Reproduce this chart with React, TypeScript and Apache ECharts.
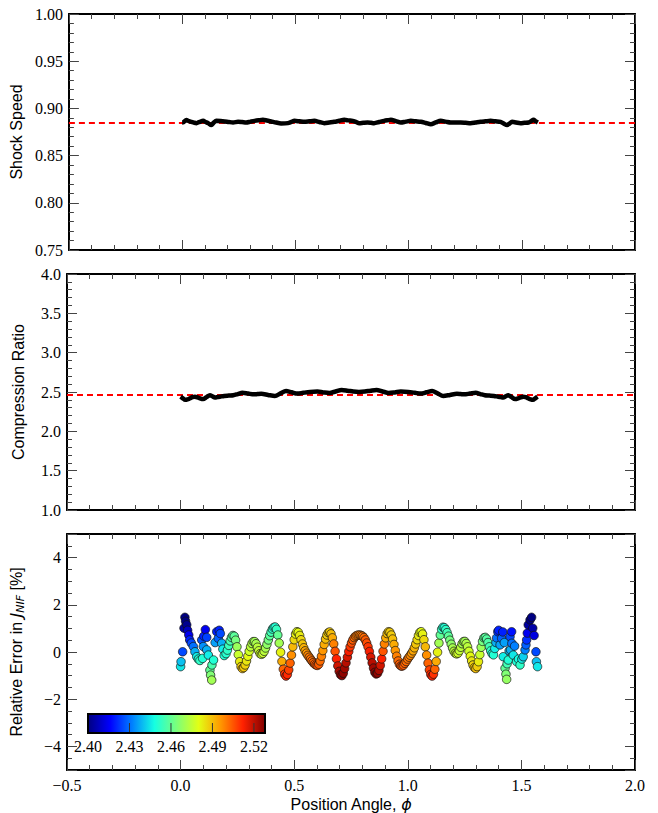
import React, { useEffect, useRef } from "react";
import * as echarts from "echarts";

// ---------- data ----------
// [position angle phi, shock speed]
const shockSpeedCurve: [number, number][] = [
  [0.000, 0.8851], [0.005, 0.8853], [0.019, 0.8876], [0.030, 0.8866], [0.041, 0.8858],
  [0.052, 0.8850], [0.063, 0.8844], [0.078, 0.8858], [0.093, 0.8868], [0.104, 0.8856],
  [0.115, 0.8844], [0.129, 0.8823], [0.140, 0.8850], [0.151, 0.8868], [0.170, 0.8866],
  [0.188, 0.8862], [0.206, 0.8856], [0.225, 0.8851], [0.247, 0.8858], [0.265, 0.8855],
  [0.283, 0.8851], [0.302, 0.8860], [0.320, 0.8868], [0.338, 0.8874], [0.357, 0.8879],
  [0.375, 0.8871], [0.393, 0.8862], [0.415, 0.8850], [0.437, 0.8841], [0.467, 0.8844],
  [0.482, 0.8856], [0.496, 0.8868], [0.518, 0.8863], [0.540, 0.8858], [0.562, 0.8863],
  [0.584, 0.8868], [0.606, 0.8856], [0.628, 0.8844], [0.650, 0.8851], [0.672, 0.8858],
  [0.694, 0.8869], [0.716, 0.8879], [0.735, 0.8873], [0.753, 0.8868], [0.768, 0.8856],
  [0.782, 0.8844], [0.800, 0.8848], [0.819, 0.8851], [0.834, 0.8848], [0.848, 0.8844],
  [0.870, 0.8856], [0.892, 0.8868], [0.907, 0.8874], [0.922, 0.8879], [0.944, 0.8865],
  [0.966, 0.8851], [0.988, 0.8860], [1.010, 0.8868], [1.032, 0.8863], [1.054, 0.8858],
  [1.076, 0.8846], [1.098, 0.8833], [1.120, 0.8851], [1.142, 0.8868], [1.164, 0.8860],
  [1.186, 0.8851], [1.208, 0.8851], [1.230, 0.8851], [1.252, 0.8848], [1.274, 0.8844],
  [1.296, 0.8851], [1.318, 0.8858], [1.340, 0.8863], [1.362, 0.8868], [1.384, 0.8863],
  [1.406, 0.8858], [1.420, 0.8840], [1.435, 0.8823], [1.446, 0.8840], [1.457, 0.8858],
  [1.475, 0.8851], [1.494, 0.8844], [1.512, 0.8848], [1.530, 0.8851], [1.541, 0.8865],
  [1.552, 0.8879], [1.560, 0.8866], [1.571, 0.8851],
];

// [position angle phi, compression ratio]
const compressionCurve: [number, number][] = [
  [0.000, 2.44], [0.010, 2.42], [0.020, 2.40], [0.030, 2.405], [0.041, 2.42],
  [0.052, 2.435], [0.063, 2.44], [0.080, 2.425], [0.099, 2.41], [0.114, 2.435],
  [0.129, 2.46], [0.140, 2.445], [0.151, 2.43], [0.162, 2.435], [0.173, 2.44],
  [0.192, 2.45], [0.212, 2.454], [0.232, 2.458], [0.252, 2.474], [0.272, 2.49],
  [0.297, 2.48], [0.323, 2.47], [0.339, 2.474], [0.355, 2.477], [0.385, 2.463],
  [0.415, 2.45], [0.440, 2.482], [0.464, 2.512], [0.489, 2.496], [0.514, 2.48],
  [0.540, 2.49], [0.570, 2.50], [0.602, 2.505], [0.628, 2.495], [0.655, 2.488],
  [0.682, 2.507], [0.709, 2.527], [0.735, 2.517], [0.760, 2.505], [0.785, 2.50],
  [0.811, 2.505], [0.836, 2.517], [0.862, 2.527], [0.889, 2.507], [0.916, 2.488],
  [0.943, 2.495], [0.969, 2.505], [1.001, 2.50], [1.031, 2.49], [1.057, 2.48],
  [1.082, 2.496], [1.107, 2.512], [1.131, 2.482], [1.156, 2.45], [1.186, 2.463],
  [1.216, 2.477], [1.232, 2.474], [1.248, 2.47], [1.274, 2.48], [1.299, 2.49],
  [1.319, 2.474], [1.339, 2.458], [1.359, 2.454], [1.379, 2.45], [1.398, 2.44],
  [1.409, 2.435], [1.420, 2.43], [1.431, 2.445], [1.442, 2.46], [1.457, 2.435],
  [1.472, 2.41], [1.491, 2.425], [1.508, 2.44], [1.519, 2.435], [1.530, 2.42],
  [1.541, 2.405], [1.551, 2.40], [1.561, 2.42], [1.571, 2.44],
];

// [position angle phi, relative error in J_NIF (%), compression ratio (colour)]
const errorPoints: [number, number, number][] = [
  [0.000, -0.62, 2.445], [0.002, -0.41, 2.440], [0.009, 0.01, 2.425], [0.015, 1.01, 2.405],
  [0.019, 1.47, 2.400], [0.022, 1.30, 2.400], [0.027, 1.15, 2.402], [0.031, 0.92, 2.408],
  [0.036, 0.72, 2.414], [0.040, 0.51, 2.420], [0.047, 0.38, 2.425], [0.056, 0.23, 2.430],
  [0.063, 0.01, 2.438], [0.071, -0.20, 2.446], [0.078, -0.30, 2.450], [0.085, -0.36, 2.452],
  [0.093, 0.51, 2.426], [0.097, -0.27, 2.450], [0.100, 0.23, 2.434], [0.102, 0.67, 2.420],
  [0.109, 0.95, 2.414], [0.115, 0.62, 2.424], [0.115, 0.09, 2.438], [0.122, -0.13, 2.446],
  [0.129, -0.77, 2.460], [0.132, -0.98, 2.465], [0.137, -1.19, 2.470], [0.138, -0.55, 2.456],
  [0.145, -0.34, 2.450], [0.152, 0.40, 2.436], [0.159, 0.86, 2.420], [0.166, 0.58, 2.428],
  [0.170, 0.92, 2.420], [0.175, 0.78, 2.425], [0.181, 0.37, 2.438], [0.186, 0.12, 2.446],
  [0.192, -0.15, 2.450],
  [0.200, -0.07, 2.451], [0.206, 0.08, 2.452], [0.212, 0.28, 2.454], [0.218, 0.47, 2.456],
  [0.224, 0.62, 2.457], [0.230, 0.70, 2.458], [0.236, 0.67, 2.459], [0.242, 0.50, 2.463],
  [0.248, 0.22, 2.469], [0.254, -0.11, 2.476], [0.260, -0.41, 2.483], [0.266, -0.62, 2.488],
  [0.272, -0.70, 2.490], [0.278, -0.66, 2.489], [0.284, -0.55, 2.487], [0.290, -0.38, 2.484],
  [0.296, -0.18, 2.481], [0.302, 0.03, 2.477], [0.308, 0.22, 2.474], [0.314, 0.36, 2.472],
  [0.320, 0.44, 2.470], [0.326, 0.44, 2.470], [0.332, 0.35, 2.471], [0.338, 0.20, 2.474],
  [0.344, 0.05, 2.475], [0.350, -0.07, 2.477], [0.356, -0.10, 2.477], [0.362, -0.06, 2.476],
  [0.368, 0.03, 2.474], [0.374, 0.17, 2.471], [0.380, 0.33, 2.467], [0.386, 0.51, 2.463],
  [0.392, 0.69, 2.459], [0.398, 0.84, 2.455], [0.404, 0.97, 2.452], [0.410, 1.04, 2.450],
  [0.416, 1.06, 2.450], [0.422, 0.96, 2.453], [0.428, 0.72, 2.460], [0.434, 0.38, 2.470],
  [0.440, -0.01, 2.482], [0.446, -0.40, 2.493], [0.452, -0.73, 2.503], [0.458, -0.94, 2.510],
  [0.464, -1.02, 2.512], [0.470, -0.95, 2.511], [0.476, -0.76, 2.508], [0.482, -0.47, 2.503],
  [0.488, -0.13, 2.497], [0.494, 0.22, 2.491], [0.500, 0.52, 2.486], [0.506, 0.76, 2.482],
  [0.512, 0.86, 2.480], [0.518, 0.83, 2.481], [0.524, 0.70, 2.483], [0.530, 0.52, 2.486],
  [0.536, 0.34, 2.489], [0.542, 0.18, 2.492], [0.548, 0.05, 2.494], [0.554, -0.05, 2.496],
  [0.560, -0.14, 2.498], [0.566, -0.22, 2.500], [0.572, -0.30, 2.501], [0.578, -0.38, 2.502],
  [0.584, -0.45, 2.503], [0.590, -0.51, 2.504], [0.596, -0.55, 2.505], [0.602, -0.57, 2.505],
  [0.608, -0.52, 2.504], [0.614, -0.38, 2.502], [0.620, -0.18, 2.499], [0.626, 0.06, 2.496],
  [0.632, 0.32, 2.493], [0.638, 0.55, 2.490], [0.644, 0.72, 2.488], [0.650, 0.82, 2.488],
  [0.656, 0.85, 2.488], [0.662, 0.77, 2.490], [0.668, 0.60, 2.493], [0.674, 0.34, 2.499],
  [0.680, 0.03, 2.505], [0.686, -0.29, 2.512], [0.692, -0.59, 2.518], [0.698, -0.82, 2.523],
  [0.704, -0.96, 2.526], [0.710, -1.00, 2.527], [0.716, -0.90, 2.526], [0.722, -0.70, 2.524],
  [0.728, -0.46, 2.521], [0.734, -0.22, 2.517], [0.740, 0.02, 2.513], [0.746, 0.22, 2.509],
  [0.752, 0.38, 2.506], [0.758, 0.51, 2.504], [0.764, 0.61, 2.502], [0.770, 0.67, 2.501],
  [0.776, 0.70, 2.500], [0.782, 0.72, 2.500],
  [0.789, 0.72, 2.500], [0.795, 0.70, 2.500], [0.801, 0.67, 2.501], [0.807, 0.61, 2.502],
  [0.813, 0.51, 2.504], [0.819, 0.38, 2.506], [0.825, 0.22, 2.509], [0.831, 0.02, 2.513],
  [0.837, -0.22, 2.517], [0.843, -0.46, 2.521], [0.849, -0.68, 2.524], [0.855, -0.86, 2.526],
  [0.861, -0.93, 2.527], [0.867, -0.90, 2.526], [0.873, -0.78, 2.523], [0.879, -0.57, 2.518],
  [0.885, -0.29, 2.512], [0.891, 0.03, 2.505], [0.897, 0.34, 2.499], [0.903, 0.60, 2.493],
  [0.909, 0.78, 2.490], [0.915, 0.86, 2.488], [0.921, 0.84, 2.488], [0.927, 0.72, 2.488],
  [0.933, 0.55, 2.490], [0.939, 0.32, 2.493], [0.945, 0.06, 2.496], [0.951, -0.18, 2.499],
  [0.957, -0.38, 2.502], [0.963, -0.52, 2.504], [0.969, -0.59, 2.505], [0.975, -0.60, 2.505],
  [0.981, -0.56, 2.504], [0.987, -0.48, 2.503], [0.993, -0.40, 2.502], [0.999, -0.30, 2.501],
  [1.005, -0.22, 2.500], [1.011, -0.14, 2.498], [1.017, -0.05, 2.496], [1.023, 0.05, 2.494],
  [1.029, 0.18, 2.492], [1.035, 0.34, 2.489], [1.041, 0.52, 2.486], [1.047, 0.70, 2.483],
  [1.053, 0.83, 2.481], [1.059, 0.86, 2.480], [1.065, 0.76, 2.482], [1.071, 0.52, 2.486],
  [1.077, 0.22, 2.491], [1.083, -0.13, 2.497], [1.089, -0.47, 2.503], [1.095, -0.76, 2.508],
  [1.101, -0.95, 2.511], [1.107, -1.02, 2.512], [1.113, -0.94, 2.510], [1.119, -0.73, 2.503],
  [1.125, -0.40, 2.493], [1.131, -0.01, 2.482], [1.137, 0.38, 2.470], [1.143, 0.72, 2.460],
  [1.149, 0.96, 2.453], [1.155, 1.05, 2.450], [1.161, 1.03, 2.450], [1.167, 0.95, 2.452],
  [1.173, 0.82, 2.455], [1.179, 0.67, 2.459], [1.185, 0.50, 2.463], [1.191, 0.33, 2.467],
  [1.197, 0.17, 2.471], [1.203, 0.03, 2.474], [1.209, -0.05, 2.476], [1.215, -0.08, 2.477],
  [1.221, -0.05, 2.477], [1.227, 0.06, 2.475], [1.233, 0.20, 2.474], [1.239, 0.35, 2.471],
  [1.245, 0.44, 2.470], [1.251, 0.45, 2.470], [1.257, 0.36, 2.472], [1.263, 0.22, 2.474],
  [1.269, 0.03, 2.477], [1.275, -0.18, 2.481], [1.281, -0.38, 2.484], [1.287, -0.55, 2.487],
  [1.293, -0.66, 2.489], [1.299, -0.70, 2.490], [1.305, -0.62, 2.488], [1.311, -0.41, 2.483],
  [1.317, -0.11, 2.476], [1.323, 0.20, 2.469], [1.329, 0.45, 2.463], [1.335, 0.60, 2.460],
  [1.341, 0.62, 2.459], [1.347, 0.55, 2.458], [1.353, 0.40, 2.457], [1.359, 0.22, 2.455],
  [1.365, 0.05, 2.452], [1.371, -0.07, 2.451],
  [1.377, -0.12, 2.450], [1.383, 0.15, 2.446], [1.388, 0.40, 2.438], [1.391, 0.60, 2.430],
  [1.396, 0.86, 2.422], [1.400, 0.92, 2.420], [1.406, 0.30, 2.436], [1.413, 0.58, 2.428],
  [1.418, 0.85, 2.420], [1.420, -0.20, 2.446], [1.425, 0.40, 2.436], [1.428, -0.69, 2.460],
  [1.432, -0.94, 2.465], [1.435, -1.16, 2.468], [1.437, -0.50, 2.455], [1.442, -0.34, 2.450],
  [1.446, 0.05, 2.440], [1.450, 0.65, 2.425], [1.452, 0.09, 2.438], [1.457, 0.86, 2.418],
  [1.458, 0.37, 2.430], [1.464, -0.13, 2.445], [1.470, 0.25, 2.432], [1.479, -0.41, 2.450],
  [1.487, -0.30, 2.448], [1.494, -0.55, 2.452], [1.502, -0.30, 2.446], [1.508, -0.20, 2.442],
  [1.516, 0.09, 2.432], [1.520, 0.30, 2.428], [1.523, 0.51, 2.422], [1.526, 0.80, 2.414],
  [1.530, 1.15, 2.404], [1.538, 1.36, 2.400], [1.545, 1.47, 2.400], [1.550, 1.01, 2.405],
  [1.556, 0.70, 2.412], [1.564, 0.01, 2.425], [1.566, -0.41, 2.440], [1.571, -0.62, 2.445],
];

const shockSpeedRef = 0.8844;
const compressionRef = 2.46;

const xRange = { min: -0.5, max: 2.0, step: 0.5 };
const shockRange = { min: 0.75, max: 1.0, step: 0.05 };
const ratioRange = { min: 1.0, max: 4.0, step: 0.5 };
const errorRange = { min: -5, max: 5 };

const colorbarTicks = [2.40, 2.43, 2.46, 2.49, 2.52];
const colorMin = 2.40;
const colorMax = 2.528;
const jetColors = [
  "#000080", "#0000ff", "#0080ff", "#15ffe2", "#7bff7b",
  "#e2ff15", "#ff9700", "#ff2100", "#800000",
];

// ---------- layout ----------
const PLOT_LEFT = 67;
const PLOT_WIDTH = 568;
const PLOT_HEIGHT = 236;
const PLOT_TOPS = [14, 274, 534];
const CB = { x: 88, y: 714, w: 177, h: 19 };

const SERIF = "Liberation Serif";
const SANS = "Liberation Sans";
const MATH = "DejaVu Sans";

const fmt = (d: number) => (v: number) =>
  (v < -1e-9 ? "\u2212" : "") + Math.abs(v).toFixed(d);

export default function App() {
  const ref = useRef<HTMLDivElement>(null);

  useEffect(() => {
    if (!ref.current) return;
    const chart = echarts.init(ref.current, null, { renderer: "svg" });

    const axisLine = { show: true, onZero: false, lineStyle: { color: "#000", width: 2 } };
    const axisTick = { show: true, inside: true, length: 10, lineStyle: { color: "#444", width: 1 } };
    const minor = (n: number) => ({ show: true, splitNumber: n, length: 5, lineStyle: { color: "#444", width: 1 } });
    const labelBase = { fontFamily: SERIF, fontSize: 16, color: "#000" };
    const nameStyle = { fontFamily: SANS, fontSize: 16, color: "#000" };

    const xAxes: any[] = [];
    const yAxes: any[] = [];
    for (let g = 0; g < 3; g++) {
      for (const pos of ["bottom", "top"]) {
        const showLab = g === 2 && pos === "bottom";
        xAxes.push({
          type: "value",
          gridIndex: g,
          position: pos,
          min: xRange.min,
          max: xRange.max,
          interval: xRange.step,
          axisLine,
          axisTick,
          minorTick: minor(5),
          splitLine: { show: false },
          axisLabel: showLab ? { ...labelBase, margin: 7, formatter: fmt(1) } : { show: false },
          ...(showLab
            ? {
                name: "Position Angle, {i|\u03d5}",
                nameLocation: "middle",
                nameGap: 26,
                nameTextStyle: {
                  ...nameStyle,
                  rich: { i: { fontFamily: MATH, fontStyle: "italic", fontSize: 16, color: "#000" } },
                },
              }
            : {}),
        });
      }
    }
    const yCfg = [
      { range: shockRange, interval: shockRange.step, digits: 2, minorN: 5, name: "Shock Speed" },
      { range: ratioRange, interval: ratioRange.step, digits: 1, minorN: 5, name: "Compression Ratio" },
      {
        range: errorRange,
        interval: undefined,
        digits: 0,
        minorN: 4,
        name: "{a|Relative Error in }{j|J}{s|NIF}{a| [%]}",
      },
    ];
    for (let g = 0; g < 3; g++) {
      const c = yCfg[g];
      for (const pos of ["left", "right"]) {
        const showLab = pos === "left";
        yAxes.push({
          type: "value",
          gridIndex: g,
          position: pos,
          min: c.range.min,
          max: c.range.max,
          ...(c.interval !== undefined ? { interval: c.interval } : { splitNumber: 5 }),
          axisLine,
          axisTick,
          minorTick: minor(c.minorN),
          splitLine: { show: false },
          axisLabel: showLab
            ? {
                ...labelBase,
                margin: 6,
                formatter: fmt(c.digits),
                showMinLabel: g === 2 ? false : true,
                showMaxLabel: g === 2 ? false : true,
              }
            : { show: false },
          ...(showLab
            ? {
                name: c.name,
                nameLocation: "middle",
                nameRotate: 90,
                nameGap: 41,
                nameTextStyle: {
                  ...nameStyle,
                  rich: {
                    a: { fontFamily: SANS, fontSize: 16, color: "#000" },
                    j: { fontFamily: MATH, fontStyle: "italic", fontSize: 16, color: "#000" },
                    s: {
                      fontFamily: MATH,
                      fontStyle: "italic",
                      fontSize: 11,
                      color: "#000",
                      padding: [8, 0, 0, 0],
                    },
                  },
                },
              }
            : {}),
        });
      }
    }

    const refLine = (v: number) => ({
      silent: true,
      symbol: ["none", "none"],
      precision: 6,
      label: { show: false },
      z: 2,
      lineStyle: { color: "#ff0000", type: [6, 4], width: 2 },
      emphasis: { disabled: true },
      data: [{ yAxis: v }],
    });

    const cbX = (v: number) => CB.x + ((v - colorMin) / (colorMax - colorMin)) * CB.w;

    const graphic: any[] = [
      {
        type: "rect",
        z: 50,
        shape: { x: CB.x, y: CB.y, width: CB.w, height: CB.h },
        style: {
          fill: new echarts.graphic.LinearGradient(
            0, 0, 1, 0,
            jetColors.map((c, i) => ({ offset: i / (jetColors.length - 1), color: c }))
          ),
          stroke: "#000",
          lineWidth: 2,
        },
      },
      ...colorbarTicks.slice(1).map((v) => ({
        type: "line",
        z: 51,
        shape: { x1: cbX(v), y1: CB.y + CB.h - 1, x2: cbX(v), y2: CB.y + CB.h - 10 },
        style: { stroke: "#333", lineWidth: 1 },
      })),
      ...colorbarTicks.map((v) => ({
        type: "text",
        z: 51,
        x: cbX(v),
        y: CB.y + CB.h + 5,
        style: {
          text: v.toFixed(2),
          fill: "#000",
          fontFamily: SERIF,
          fontSize: 16,
          textAlign: "center",
        },
      })),
    ];

    chart.setOption({
      animation: false,
      backgroundColor: "#fff",
      grid: PLOT_TOPS.map((t) => ({ left: PLOT_LEFT, top: t, width: PLOT_WIDTH, height: PLOT_HEIGHT })),
      xAxis: xAxes,
      yAxis: yAxes,
      visualMap: {
        type: "continuous",
        show: false,
        seriesIndex: 2,
        dimension: 2,
        min: colorMin,
        max: colorMax,
        inRange: { color: jetColors },
      },
      series: [
        {
          type: "line",
          xAxisIndex: 0,
          yAxisIndex: 0,
          data: shockSpeedCurve,
          symbol: "none",
          showSymbol: false,
          smooth: 0.3,
          z: 10,
          lineStyle: { color: "#000", width: 4.5 },
          markLine: refLine(shockSpeedRef),
        },
        {
          type: "line",
          xAxisIndex: 2,
          yAxisIndex: 2,
          data: compressionCurve,
          symbol: "none",
          showSymbol: false,
          smooth: 0.3,
          z: 10,
          lineStyle: { color: "#000", width: 4.5 },
          markLine: refLine(compressionRef),
        },
        {
          type: "scatter",
          xAxisIndex: 4,
          yAxisIndex: 4,
          data: errorPoints,
          symbol: "circle",
          symbolSize: 8.5,
          itemStyle: { borderColor: "#111", borderWidth: 0.7, opacity: 1 },
        },
      ],
      graphic,
    });

    return () => chart.dispose();
  }, []);

  return (
    <div
      ref={ref}
      style={{ position: "absolute", left: 0, top: 0, width: 658, height: 813, background: "#fff" }}
    />
  );
}
